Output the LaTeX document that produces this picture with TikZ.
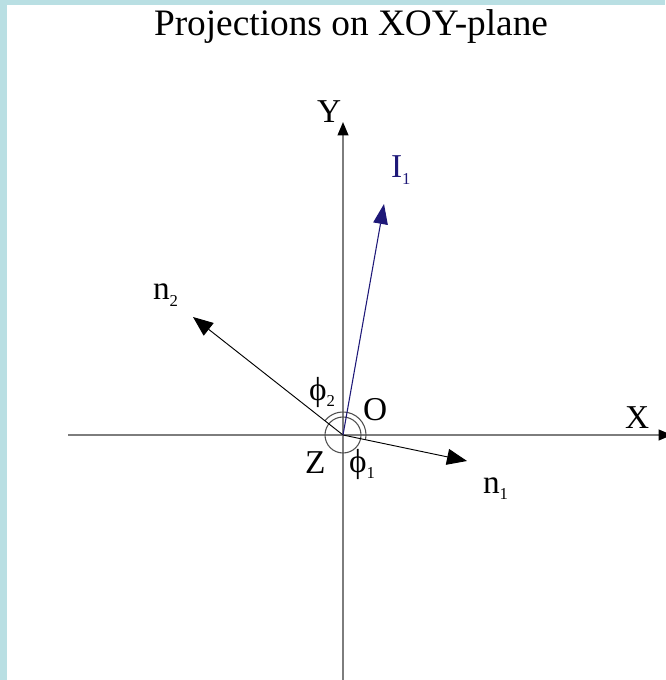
\documentclass[tikz,border=0pt]{standalone}
\usepackage{fontspec}
\setmainfont{Liberation Serif}
\usetikzlibrary{arrows.meta}
\definecolor{frameblue}{RGB}{185,223,227}
\definecolor{axisgray}{RGB}{125,125,125}
\definecolor{navyv}{RGB}{30,24,120}
\definecolor{circgray}{RGB}{80,80,80}
\newcommand{\mysub}[1]{\raisebox{-5pt}{\fontsize{12.5}{12.5}\selectfont #1}}
\begin{document}
\begin{tikzpicture}[x=0.75pt,y=-0.75pt,
  lbl/.style={inner sep=0pt,outer sep=0pt,anchor=base west,font=\fontsize{25}{28}\selectfont},
  axis/.style={draw=axisgray,line width=1.4pt,-{Triangle[length=10pt,width=8pt,color=black]}},
  vec/.style={draw=black,line width=0.7pt,-{Triangle[length=15pt,width=12pt]}},
  ivec/.style={draw=navyv,line width=0.8pt,-{Triangle[length=15pt,width=11pt]}},
  anglemark/.style={draw=circgray,line width=0.8pt}]
\useasboundingbox (0,0) rectangle (665,680);
\fill[frameblue] (0,0) rectangle (665,680);
\fill[white] (7,5) rectangle (665,680);
% title
\node[inner sep=0pt,anchor=base,font=\fontsize{28}{32}\selectfont] (title) at (351,36) {Projections on XOY-plane};
% coordinates
\coordinate (O) at (343,435);
\coordinate (xs) at (68,435);
\coordinate (xe) at (672,435);
\coordinate (ys) at (343,682);
\coordinate (ye) at (343,122);
\coordinate (n1tip) at (467,461);
\coordinate (n2tip) at (193,317);
\coordinate (i1tip) at (384,204);
% axes
\draw[axis] (xs) -- (xe);
\draw[axis] (ys) -- (ye);
% angle marks
\draw[anglemark] (O) circle[radius=18];
\draw[anglemark] (O) ++(11.5:23) arc[start angle=11.5,end angle=-142,radius=23];
% vectors
\draw[vec] (O) -- (n2tip);
\draw[vec] (O) -- (n1tip);
\draw[ivec] (O) -- (i1tip);
% labels
\node[lbl] (Ylbl) at (317,123) {Y};
\node[lbl] (Xlbl) at (625,428) {X};
\node[lbl] (Olbl) at (363,420) {O};
\node[lbl] (Zlbl) at (305,473) {Z};
\node[lbl,text=navyv] (I1lbl) at (391,178) {I\mysub{1}};
\node[lbl] (n2lbl) at (153,300) {n\mysub{2}};
\node[lbl] (n1lbl) at (483,493) {n\mysub{1}};
\node[lbl] (p2lbl) at (309,400) {ϕ\mysub{2}};
\node[lbl] (p1lbl) at (349,472) {ϕ\mysub{1}};
\end{tikzpicture}
\end{document}
